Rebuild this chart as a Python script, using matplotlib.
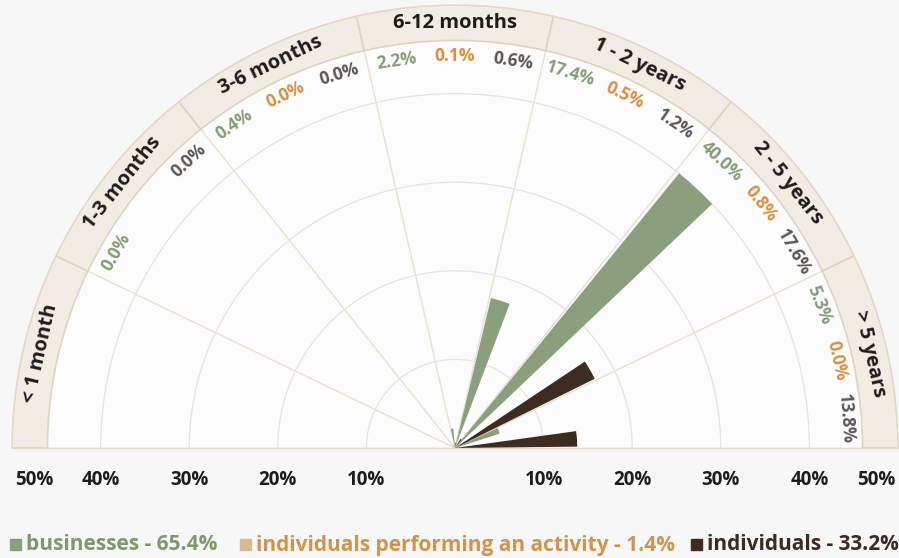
import numpy as np
import matplotlib.pyplot as plt
from matplotlib.patches import Rectangle
from matplotlib.transforms import offset_copy

plt.rcParams['font.family'] = ['Open Sans', 'DejaVu Sans']

# data (None = no label shown)
categories = ['< 1 month', '1-3 months', '3-6 months', '6-12 months',
              '1 - 2 years', '2 - 5 years', '> 5 years']
businesses = [None, 0.0, 0.4, 2.2, 17.4, 40.0, 5.3]
activity = [None, None, 0.0, 0.1, 0.5, 0.8, 0.0]
individuals = [None, 0.0, 0.0, 0.6, 1.2, 17.6, 13.8]
ring_ticks = [10, 20, 30, 40, 50]
legend_labels = ['businesses - 65.4%',
                 'individuals performing an activity - 1.4%',
                 'individuals - 33.2%']

bar_colors = ['#8a9f7b', '#dcb88f', '#3f2c20']
text_colors = ['#859c78', '#d8903f', '#5a5653']
legend_text_colors = ['#7f9870', '#d0944e', '#3a2c24']

series = [np.array(s, dtype=float) for s in (businesses, activity, individuals)]
n = len(categories)
sector = np.pi / n
sub = sector / 3

fig = plt.figure(figsize=(8.99, 5.58), dpi=100, facecolor='#f7f7f7')
# square box: the half disc sits in its middle band
ax = fig.add_axes([12 / 899, -111.5 / 558, 886 / 899, 886 / 558], projection='polar')
ax.set_thetamin(0)
ax.set_thetamax(180)
ax.set_ylim(0, 50)
ax.set_facecolor('#fcfcfc')

bounds = np.pi - np.arange(n + 1) * sector
ax.set_rgrids(ring_ticks[:-1], labels=[''] * (len(ring_ticks) - 1))
ax.set_thetagrids(np.degrees(bounds), labels=[''] * (n + 1))
ax.yaxis.grid(True, color='#e3e3e3', lw=0.9)
ax.xaxis.grid(True, color='#e8e1d2', lw=1.0)
for name, sp in ax.spines.items():
    sp.set_color('#e2dac8')
    sp.set_linewidth(1.0)

mids = np.pi - (np.arange(n) + 0.5) * sector

# outer band with category names
ax.bar(mids, 4, width=sector, bottom=46, color='#f1ede5', edgecolor='#ddd5c2',
       lw=1.2, zorder=2)
for m, cat in zip(mids, categories):
    ax.text(m, 48, cat, rotation=np.degrees(m) - 90, rotation_mode='anchor',
            ha='center', va='center', fontsize=14.5, fontweight='bold',
            color='#1f1d1c', zorder=5)

# bars and value labels
for k, vals in enumerate(series):
    theta = np.pi - np.arange(n) * sector - (k + 0.5) * sub
    ok = ~np.isnan(vals)
    ax.bar(theta[ok], vals[ok], width=sub * 0.85, color=bar_colors[k],
           edgecolor='none', zorder=3)
    for t, v in zip(theta[ok], vals[ok]):
        ax.text(t, 44.2, f'{v:.1f}%', rotation=np.degrees(t) - 90,
                rotation_mode='anchor', ha='center', va='center',
                fontsize=12.5, fontweight='bold', color=text_colors[k], zorder=5)

# radial scale under the baseline
trans = offset_copy(ax.transData, fig=fig, y=-32, units='dots')
for r in ring_ticks:
    rr = 47.5 if r == 50 else r
    for th in (0, np.pi):
        ax.text(th, rr, f'{r}%', transform=trans, ha='center', va='center',
                fontsize=13.5, fontweight='bold', color='#1f1d1c', clip_on=False)

# legend
leg_x = [10, 240, 691]
for x, lab, c, tc in zip(leg_x, legend_labels, bar_colors, legend_text_colors):
    fig.patches.append(Rectangle((x / 899, (558 - 550) / 558), 11 / 899, 11 / 558,
                                 transform=fig.transFigure, color=c))
    fig.text((x + 16) / 899, (558 - 545) / 558, lab, ha='left', va='center',
             fontsize=15, fontweight='bold', color=tc)

fig.savefig('out.png', dpi=100, facecolor=fig.get_facecolor())
